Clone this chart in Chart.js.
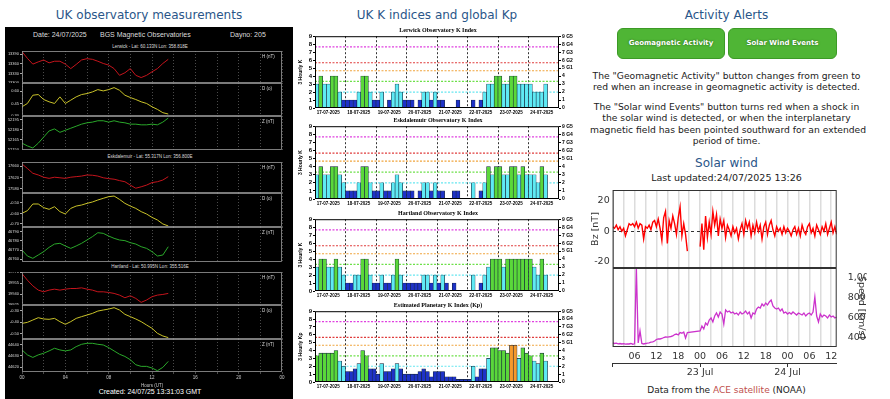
<!DOCTYPE html>
<html lang="en">
<head>
<meta charset="UTF-8">
<title>Space weather overview</title>
<script src="https://cdn.jsdelivr.net/npm/chart.js"></script>
<style>
  body { margin:0; width:890px; height:399px; overflow:hidden; position:relative; background:#fff; font-family:"DejaVu Sans", Verdana, sans-serif; }
  canvas { position:absolute; }
  .ttl { position:absolute; text-align:center; color:#2a5689; font-size:12px; line-height:16px; white-space:nowrap; }
  .txt { position:absolute; text-align:center; color:#222; white-space:nowrap; }
  #magPanel { position:absolute; left:5px; top:27px; width:288px; height:372px; background:#000; }
  .mag { position:absolute; color:#ddd; font-family:"Liberation Sans", Arial, sans-serif; white-space:nowrap; }
  .btn { position:absolute; top:28px; height:29px; background:#4fb535; border:1px solid #3c9a26; border-radius:6px;
         color:#fff; font-weight:bold; font-size:7px; line-height:29px; text-align:center; text-shadow:0 0 2px #245c16; }
  .ace { color:#c0504d; }
</style>
</head>
<body>

<!-- column titles -->
<div class="ttl" style="left:0;width:298px;top:7px">UK observatory measurements</div>
<div class="ttl" style="left:300px;width:274px;top:7px">UK K indices and global Kp</div>
<div class="ttl" style="left:590px;width:273px;top:7px">Activity Alerts</div>

<!-- left: magnetometer panel -->
<div id="magPanel"></div>
<div class="mag" style="left:33px;top:31px;font-size:7px">Date: 24/07/2025</div>
<div class="mag" style="left:100px;top:31px;font-size:7px">BGS Magnetic Observatories</div>
<div class="mag" style="left:230px;top:31px;font-size:7px">Dayno: 205</div>
<div class="mag" style="left:0;width:300px;text-align:center;top:44px;font-size:4.5px">Lerwick - Lat: 60.133N Lon: 358.818E</div>
<div class="mag" style="left:0;width:300px;text-align:center;top:154px;font-size:4.5px">Eskdalemuir - Lat: 55.317N Lon: 356.800E</div>
<div class="mag" style="left:0;width:300px;text-align:center;top:264px;font-size:4.5px">Hartland - Lat: 50.995N Lon: 355.516E</div>
<div class="mag" style="left:0;width:300px;text-align:center;top:388px;font-size:7px;color:#fff">Created: 24/07/25 13:31:03 GMT</div>

<canvas id="lerH" width="280" height="32" style="left:5px;top:51px"></canvas>
<canvas id="lerD" width="280" height="33" style="left:5px;top:83px"></canvas>
<canvas id="lerZ" width="280" height="34" style="left:5px;top:116px"></canvas>
<canvas id="eskH" width="280" height="31" style="left:5px;top:162px"></canvas>
<canvas id="eskD" width="280" height="34" style="left:5px;top:193px"></canvas>
<canvas id="eskZ" width="280" height="35" style="left:5px;top:227px"></canvas>
<canvas id="harH" width="280" height="33" style="left:5px;top:272px"></canvas>
<canvas id="harD" width="280" height="34" style="left:5px;top:305px"></canvas>
<canvas id="harZ" width="280" height="49" style="left:5px;top:339px"></canvas>

<!-- middle: K index charts -->
<canvas id="kLer" width="280" height="92" style="left:298px;top:26px"></canvas>
<canvas id="kEsk" width="280" height="93" style="left:298px;top:116px"></canvas>
<canvas id="kHar" width="280" height="92" style="left:298px;top:209px"></canvas>
<canvas id="kPlan" width="280" height="91" style="left:298px;top:301px"></canvas>

<!-- right: alerts -->
<div class="btn" style="left:617px;width:106px">Geomagnetic Activity</div>
<div class="btn" style="left:728px;width:107px">Solar Wind Events</div>
<div class="txt" style="left:590px;width:273px;top:70px;font-size:9.2px;line-height:11.3px">The "Geomagnetic Activity" button changes from green to<br>red when an increase in geomagnetic activity is detected.</div>
<div class="txt" style="left:590px;width:273px;top:101px;font-size:9.2px;line-height:11.3px">The "Solar wind Events" button turns red when a shock in<br>the solar wind is detected, or when the interplanetary<br>magnetic field has been pointed southward for an extended<br>period of time.</div>

<div class="ttl" style="left:590px;width:273px;top:155px">Solar wind</div>
<div class="txt" style="left:590px;width:273px;top:172px;font-size:9.5px;line-height:12px">Last updated:24/07/2025 13:26</div>
<canvas id="swBz" width="300" height="78" style="left:590px;top:190px"></canvas>
<canvas id="swV" width="300" height="110" style="left:590px;top:268px"></canvas>
<div class="txt" style="left:590px;width:273px;top:384px;font-size:9px;line-height:12px">Data from the <span class="ace">ACE satellite</span> (NOAA)</div>

<script>
  // ---------- K indices, 3-hourly, 17-07-2025 .. 24-07-2025 ----------
  const kDates = ['17-07-2025', '18-07-2025', '19-07-2025', '20-07-2025',
                  '21-07-2025', '22-07-2025', '23-07-2025', '24-07-2025'];
  const kLerwick = [3,4,3,3,4,4,2,1, 1,1,1,2,4,4,2,1, 1,2,0,1,2,3,2,1, 1,1,0,1,2,2,1,2,
                    1,1,0,0,0,1,0,0, 0,1,0,1,2,3,3,4, 4,3,3,4,4,3,3,3, 3,2,2,2,3];
  const kEskdalemuir = [3,4,3,3,4,4,3,2, 1,1,1,2,4,4,2,1, 1,2,1,1,2,3,2,1, 1,1,0,1,2,2,1,2,
                        1,1,0,0,1,1,0,0, 0,2,0,1,2,4,3,4, 4,3,3,4,4,3,4,3, 3,3,2,4,3];
  const kHartland = [3,4,4,3,3,4,3,2, 1,1,2,2,4,4,2,1, 1,2,1,1,2,4,2,1, 1,1,1,1,2,2,1,2,
                     1,2,1,0,1,0,0,0, 0,2,0,1,2,3,4,4, 4,3,4,4,4,4,4,4, 4,3,2,4,2];
  const kpGlobal = [3.33,3.67,3.67,3.67,3.67,4,2.67,2, 1.33,1.33,1.67,2.33,4,3.33,1.67,1.67,
                    1,2.33,1.33,1.33,1.67,2.33,1.67,1, 1,1,1,1.33,1.67,1.33,0.67,1.33,
                    1.33,1.33,0.67,0.67,0.67,0.33,0.33,0.33, 0.33,2,0.67,1.67,1.67,3,4.33,4.33,
                    4,4,3.67,4.67,4.67,3,4.33,3.67, 3.33,2.67,2.33,3.67,2.67];
  const kLevels = [2, 3.33, 4.67, 5.67, 7.67];
  const kLevelColours = ['#66e6f0', '#6ee04a', '#f0a43c', '#e03c3c', '#e040e0'];

  // ---------- magnetometer traces (half-hourly, 00:00 - 13:30 UT) ----------
  const magHours = [0,0.5,1,1.5,2,2.5,3,3.5,4,4.5,5,5.5,6,6.5,7,7.5,8,8.5,9,9.5,10,10.5,11,11.5,12,12.5,13,13.5];
  const lerH = [13398,13377,13359,13366,13372,13363,13368,13368,13359,13345,13358,13372,13376,13374,
                13368,13361,13356,13345,13324,13332,13345,13324,13317,13324,13335,13345,13361,13374];
  const lerD = [0.412,0.452,0.552,0.56,0.50,0.472,0.452,0.532,0.452,0.492,0.532,0.56,0.572,0.592,
                0.62,0.604,0.62,0.644,0.612,0.552,0.524,0.50,0.472,0.452,0.412,0.38,0.34,0.324];
  const lerZ = [52160,52156,52153,52160,52169,52178,52181,52176,52179,52182,52185,52188,52190,52191,
                52193,52193,52191,52193,52191,52190,52188,52188,52187,52187,52188,52187,52191,52197];
  const eskH = [17668,17652,17635,17629,17621,17617,17621,17619,17617,17621,17623,17625,17629,17628,
                17625,17619,17616,17614,17609,17605,17593,17582,17587,17593,17602,17605,17611,17623];
  const eskD = [-0.599,-0.574,-0.51,-0.51,-0.545,-0.561,-0.536,-0.583,-0.606,-0.552,-0.53,-0.52,-0.504,-0.491,
                -0.472,-0.456,-0.44,-0.434,-0.466,-0.504,-0.53,-0.552,-0.583,-0.606,-0.638,-0.663,-0.701,-0.72];
  const eskZ = [46770,46763.5,46761,46764.6,46768.2,46772.9,46776.5,46777.3,46774.4,46771.8,46774.4,46777.3,46780.9,46784.5,
                46788.8,46788.1,46785.2,46782.7,46780.9,46780.2,46778,46776.5,46773.6,46771.8,46768.2,46763.5,46764.6,46773.6];
  const harH = [19967.8,19958.8,19951.1,19945.3,19943,19945.3,19946.6,19945.3,19946.6,19947.5,19947.5,19948.4,19946.6,19945.3,
                19943,19943,19942.1,19940.8,19938.5,19934.9,19937.6,19934,19928.6,19931.8,19936.3,19938.5,19939.4,19940.8];
  const harD = [-0.409,-0.4,-0.38,-0.36,-0.371,-0.374,-0.366,-0.394,-0.417,-0.394,-0.366,-0.351,-0.337,-0.323,
                -0.303,-0.294,-0.286,-0.274,-0.294,-0.331,-0.351,-0.371,-0.394,-0.423,-0.451,-0.494,-0.517,-0.531];
  const harZ = [44635.5,44631,44628.7,44631,44632.5,44634.6,44637,44635.5,44634.6,44635.5,44638.5,44640.6,44641.5,44641.5,
                44640.6,44640,44637.6,44634.6,44631.6,44629.6,44626.6,44622.1,44620.6,44620.6,44619.1,44616.7,44619.7,44625.1];
  const hourLabels = ['00', '04', '08', '12', '16', '20', '00'];

  // ---------- ACE solar wind, every 0.5 h from 22 Jul 00:00 UT ----------
  const swStepHours = 0.5;
  const bzValues = [
    3, 2, 4, 1, 3, 0, 2, -3, 1, 5, 4, 5,
    3, 6, 2, 5, 4, -5, 3, 2, 4, 1, 6, 7,
    3, 8, 2, -6, 9, 13, -8, 7, 2, 10, 5, -2,
    9, 16, -3, 5, -2, -13, null, null, null, null, null, null,
    -10, 5, -12, 10, -4, 6, -2, 13, 4, 11, -3, 8,
    2, 7, -4, 4, 1, -3, 3, -1, 2, -5, 1, 5,
    -2, 7, 2, 6, -3, 4, -1, 6, 0, 4, -5, 3,
    6, -2, 4, 7, 1, -3, 3, 0, 2, -2, 3, -1,
    2, 0, -3, 1, 3, -2, 2, -3, 4, 0, -2, 3,
    5, -1, 2, -3, 4, 1, -2, 3, 0, 5, -2, 2,
    6, -1, 3, -2];
  const speedValues = [
    350, 345, 348, 342, 345, 340, 344, 338, 342, 340, 345, 338,
    342, 1100, 350, 470, 345, 340, 345, 348, 352, 358, 362, 370,
    385, 392, 390, 395, 405, 410, 408, 412, 415, 420, 435, 440,
    430, 455, 448, 460, 400, 455, null, null, null, null, null, null,
    470, 520, 490, 550, 530, 580, 600, 560, 620, 650, 610, 660,
    640, 540, 680, 660, 670, 650, 660, 640, 650, 630, 660, 640,
    650, 670, 640, 660, 600, 650, 640, 690, 710, 700, 740, 720,
    750, 730, 760, 780, 720, 700, 690, 700, 670, 690, 650, 660,
    640, 655, 640, 660, 645, 630, 650, 640, 630, 650, 620, 640,
    650, 630, 660, 810, 620, 560, 640, 610, 630, 620, 600, 630,
    610, 620, 600, 610];
  const bzTicks = [-20, 0, 20];
  const speedTicks = [400, 600, 800, 1000];
  const swDayTicks = [0, 24, 48];
  const swDayLabels = ['', '23 Jul', '24 Jul'];

  // ---------- helper plugins ----------
  const framePlugin = {
    id: 'frame',
    afterDraw(chart, args, opts) {
      const { ctx, chartArea: a } = chart;
      ctx.save();
      ctx.strokeStyle = opts.color || '#000';
      ctx.lineWidth = opts.width || 1;
      ctx.strokeRect(a.left + 0.5, a.top + 0.5, a.width - 1, a.height - 1);
      ctx.restore();
    }
  };
  const kLevelPlugin = {
    id: 'kLevels',
    beforeDatasetsDraw(chart) {
      const { ctx, chartArea: a, scales } = chart;
      ctx.save();
      ctx.lineWidth = 1.2;
      ctx.setLineDash([2, 1.5]);
      kLevels.forEach((v, i) => {
        const py = scales.y.getPixelForValue(v);
        ctx.strokeStyle = kLevelColours[i];
        ctx.beginPath(); ctx.moveTo(a.left, py); ctx.lineTo(a.right, py); ctx.stroke();
      });
      ctx.restore();
    }
  };
  const panelLabelPlugin = {
    id: 'panelLabel',
    afterDraw(chart, args, opts) {
      const { ctx, chartArea: a } = chart;
      ctx.save();
      ctx.fillStyle = '#ddd';
      ctx.font = '4.5px "Liberation Sans"';
      ctx.textBaseline = 'middle';
      ctx.fillText(opts.text, a.right - 20, a.top + 6);
      ctx.restore();
    }
  };

  // ---------- magnetometer charts ----------
  function magChart(id, values, colour, lo, hi, step, label, withHours) {
    new Chart(document.getElementById(id), {
      type: 'line',
      data: { datasets: [{ data: magHours.map((h, i) => ({ x: h, y: values[i] })),
                           borderColor: colour, borderWidth: 1, pointRadius: 0 }] },
      options: {
        responsive: false, animation: false,
        layout: { padding: { right: 3 } },
        plugins: { legend: { display: false }, tooltip: { enabled: false },
                   frame: { color: '#9a9a9a', width: 0.8 }, panelLabel: { text: label } },
        scales: {
          x: { type: 'linear', min: 0, max: 24,
               grid: { color: '#4a4a4a', drawTicks: withHours, tickLength: 2 },
               border: { display: false, dash: [1, 2] },
               ticks: { display: withHours, stepSize: 2, autoSkip: false, maxRotation: 0, padding: 1,
                        font: { family: 'Liberation Sans', size: 4.5 }, color: '#ccc',
                        callback: v => v % 4 === 0 ? hourLabels[v / 4] : '' },
               title: { display: withHours, text: 'Hours (UT)', color: '#ccc', padding: 0,
                        font: { family: 'Liberation Sans', size: 4.5 } },
               afterFit: s => { s.height = withHours ? 16 : 0; s.paddingLeft = 0; s.paddingRight = 0; } },
          y: { min: lo, max: hi,
               ticks: { stepSize: step, includeBounds: false, padding: 1, color: '#ddd',
                        font: { family: 'Liberation Sans', size: 4 }, format: { useGrouping: false } },
               grid: { drawOnChartArea: false, tickLength: 2, color: '#aaa' },
               border: { display: false },
               afterFit: s => { s.width = 17; s.paddingTop = 0; s.paddingBottom = 0; } }
        }
      },
      plugins: [framePlugin, panelLabelPlugin]
    });
  }

  magChart('lerH', lerH, '#c4141c', 13300, 13400, 10, 'H (nT)', false);
  magChart('lerD', lerD, '#c9c229', 0.3, 0.7, 0.05, 'D (o)', false);
  magChart('lerZ', lerZ, '#2aa82a', 52150, 52200, 5, 'Z (nT)', false);
  magChart('eskH', eskH, '#c4141c', 17565, 17675, 20, 'H (nT)', false);
  magChart('eskD', eskD, '#c9c229', -0.73, -0.405, 0.05, 'D (o)', false);
  magChart('eskZ', eskZ, '#2aa82a', 46757, 46795, 5, 'Z (nT)', false);
  magChart('harH', harH, '#c4141c', 19925, 19970, 5, 'H (nT)', false);
  magChart('harD', harD, '#c9c229', -0.543, -0.251, 0.05, 'D (o)', false);
  magChart('harZ', harZ, '#2aa82a', 44615.5, 44645.4, 5, 'Z (nT)', true);

  // ---------- K index charts ----------
  const kSlotLabels = kDates.flatMap(d => [d, d, d, d, d, d, d, d]);

  function kColour(v) {
    if (v < 2) return '#1e32c8';
    if (v < 3.3) return '#5feaf4';
    if (v < 4.5) return '#5ad83a';
    if (v < 5.5) return '#f59a2c';
    return '#e03030';
  }

  function kChart(id, title, yTitle, values) {
    new Chart(document.getElementById(id), {
      type: 'bar',
      data: {
        labels: kSlotLabels,
        datasets: [{ data: values, backgroundColor: values.map(kColour),
                     borderColor: '#14243a', borderWidth: 0.6,
                     barPercentage: 1, categoryPercentage: 1 }]
      },
      options: {
        responsive: false, animation: false,
        layout: { padding: 0 },
        plugins: {
          legend: { display: false }, tooltip: { enabled: false },
          title: { display: true, text: title, color: '#000', padding: { top: 1, bottom: 2 },
                   font: { family: 'Liberation Serif', size: 6, weight: 'bold' } },
          frame: { color: '#000', width: 1 }
        },
        scales: {
          x: { grid: { offset: true, drawTicks: false, lineWidth: 0.8,
                       color: c => (c.index % 8 === 0 && c.index > 0 && c.index < 64) ? '#000' : 'transparent' },
               border: { display: false, dash: [2, 2] },
               ticks: { autoSkip: false, maxRotation: 0, padding: 2, color: '#000',
                        font: { family: 'Liberation Sans', size: 4.5, weight: 'bold' },
                        callback: (v, i) => i % 8 === 3 ? kSlotLabels[i] : '' },
               afterFit: s => { s.height = 10; } },
          y: { min: 0, max: 9, position: 'left',
               ticks: { stepSize: 1, autoSkip: false, padding: 1, color: '#000',
                        font: { family: 'Liberation Sans', size: 6, weight: 'bold' } },
               grid: { drawOnChartArea: false, tickLength: 2, color: '#000' },
               border: { display: false },
               title: { display: true, text: yTitle, color: '#000', padding: 0,
                        font: { family: 'Liberation Sans', size: 5, weight: 'bold' } },
               afterFit: s => { s.width = 17; } },
          y2: { min: 0, max: 9, position: 'right',
                ticks: { stepSize: 1, autoSkip: false, padding: 1, color: '#000',
                         font: { family: 'Liberation Sans', size: 5, weight: 'bold' },
                         callback: v => v >= 5 ? v + ' G' + (v - 4) : String(v) },
                grid: { drawOnChartArea: false, tickLength: 2, color: '#000' },
                border: { display: false },
                afterFit: s => { s.width = 19; } }
        }
      },
      plugins: [kLevelPlugin, framePlugin]
    });
  }

  kChart('kLer', 'Lerwick Observatory K Index', '3 Hourly K', kLerwick);
  kChart('kEsk', 'Eskdalemuir Observatory K Index', '3 Hourly K', kEskdalemuir);
  kChart('kHar', 'Hartland Observatory K Index', '3 Hourly K', kHartland);
  kChart('kPlan', 'Estimated Planetary K Index (Kp)', '3 Hourly Kp', kpGlobal);

  // ---------- solar wind ----------
  const pad2 = n => String(n).padStart(2, '0');
  const swFont = { family: 'DejaVu Sans', size: 9.5 };

  new Chart(document.getElementById('swBz'), {
    type: 'line',
    data: { datasets: [{ data: bzValues.map((v, i) => ({ x: i * swStepHours, y: v })),
                         borderColor: '#ff0000', borderWidth: 1.4, pointRadius: 0, spanGaps: false }] },
    options: {
      responsive: false, animation: false,
      layout: { padding: { right: 53.3 } },
      plugins: { legend: { display: false }, tooltip: { enabled: false }, frame: { color: '#333', width: 1 } },
      scales: {
        x: { type: 'linear', min: 0, max: 61.5,
             ticks: { display: false, stepSize: 3, includeBounds: false },
             grid: { color: '#dcdcdc', lineWidth: 1.5, drawTicks: false },
             border: { display: false },
             afterFit: s => { s.height = 0; s.paddingLeft = 0; s.paddingRight = 0; } },
        y: { min: -24, max: 27,
             afterBuildTicks: s => { s.ticks = bzTicks.map(v => ({ value: v })); },
             ticks: { padding: 3, color: '#333', font: swFont },
             grid: { color: c => c.tick.value === 0 ? '#333' : 'transparent', drawTicks: false },
             border: { display: false, dash: [3, 3] },
             title: { display: true, text: 'Bz [nT]', color: '#333', padding: 0, font: swFont },
             afterFit: s => { s.width = 22.7; s.paddingTop = 0; s.paddingBottom = 0; } }
      }
    },
    plugins: [framePlugin]
  });

  new Chart(document.getElementById('swV'), {
    type: 'line',
    data: { datasets: [{ data: speedValues.map((v, i) => ({ x: i * swStepHours, y: v })),
                         borderColor: '#cc33cc', borderWidth: 1.3, pointRadius: 0, spanGaps: true }] },
    options: {
      responsive: false, animation: false,
      layout: { padding: { left: 22.7, right: 23.3 } },
      plugins: { legend: { display: false }, tooltip: { enabled: false }, frame: { color: '#333', width: 1 } },
      scales: {
        x: { type: 'linear', min: 0, max: 61.5, weight: 0,
             ticks: { stepSize: 3, includeBounds: false, autoSkip: false, maxRotation: 0, padding: 4,
                      color: '#333', font: swFont,
                      callback: v => (v % 6 === 0 && v > 0) ? pad2(v % 24) : '' },
             grid: { color: '#dcdcdc', lineWidth: 1.5, drawTicks: false },
             border: { display: false },
             afterFit: s => { s.height = 16; s.paddingLeft = 0; s.paddingRight = 0; } },
        x2: { type: 'linear', position: 'bottom', min: 0, max: 61.5, weight: 1,
              afterBuildTicks: s => { s.ticks = swDayTicks.map(v => ({ value: v })); },
              ticks: { autoSkip: false, maxRotation: 0, padding: 0, color: '#333', font: swFont,
                       callback: v => swDayLabels[swDayTicks.indexOf(v)] },
              grid: { drawOnChartArea: false, tickLength: 4, color: '#333' },
              border: { display: true, color: '#333' },
              afterFit: s => { s.height = 15; s.paddingLeft = 0; s.paddingRight = 0; } },
        y: { position: 'right', min: 310, max: 1100,
             afterBuildTicks: s => { s.ticks = speedTicks.map(v => ({ value: v })); },
             ticks: { autoSkip: false, padding: 3, color: '#333', font: swFont },
             grid: { display: false },
             border: { display: false },
             title: { display: true, text: 'Speed [km/s]', color: '#333', padding: 0, font: swFont },
             afterFit: s => { s.width = 30; s.paddingTop = 0; s.paddingBottom = 0; } }
      }
    },
    plugins: [framePlugin]
  });
</script>
</body>
</html>
